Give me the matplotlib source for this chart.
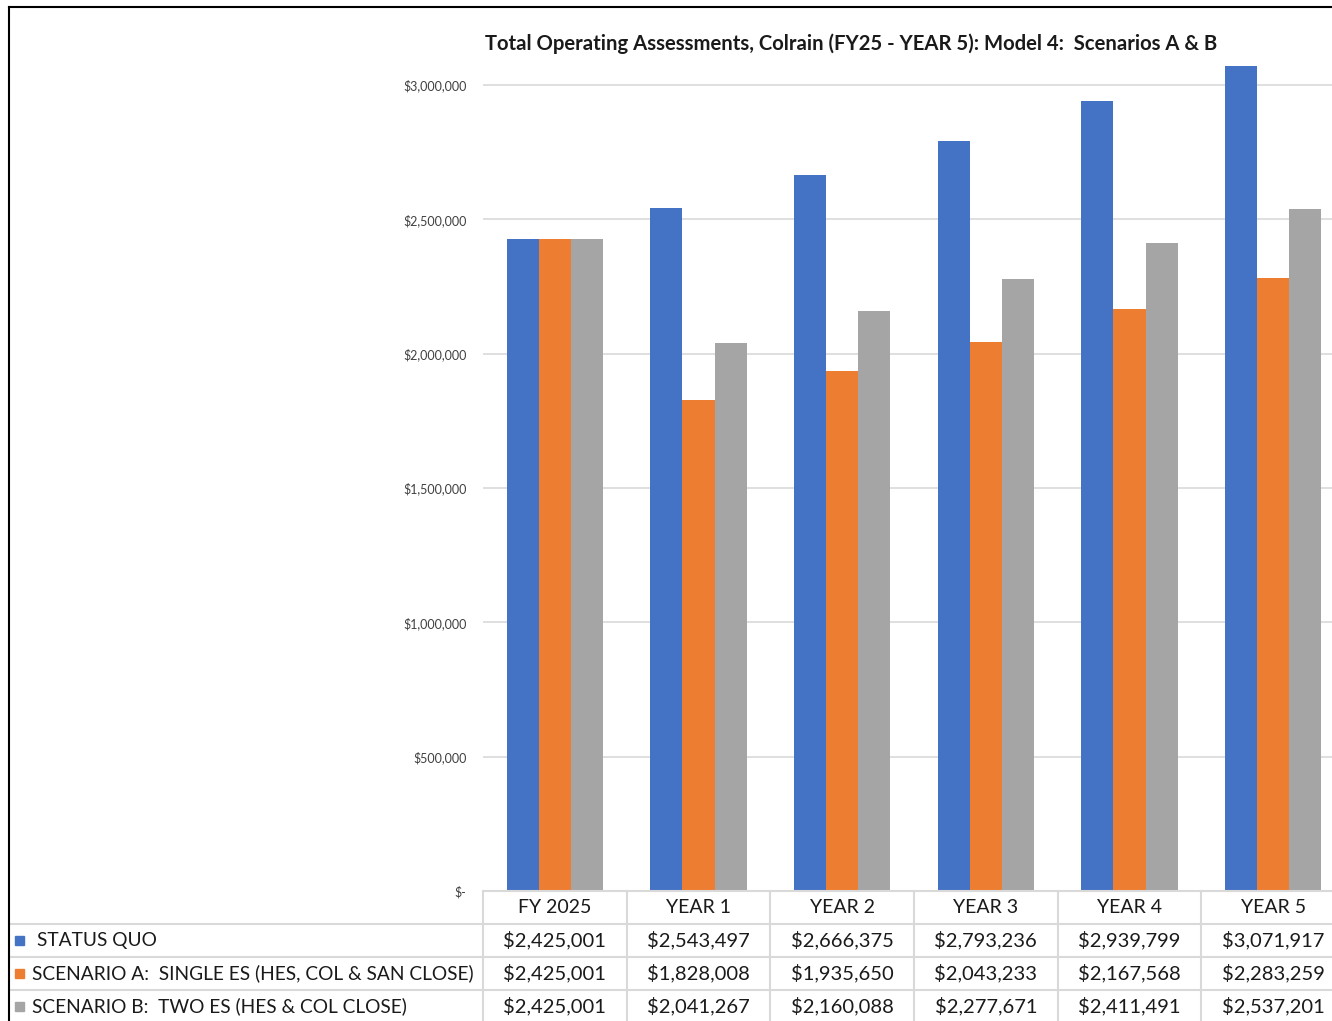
import matplotlib
matplotlib.use("Agg")
import matplotlib.pyplot as plt
from matplotlib.lines import Line2D
from matplotlib.patches import Rectangle
from matplotlib.ticker import FuncFormatter
from matplotlib.transforms import blended_transform_factory
import numpy as np

plt.rcParams['font.family'] = ['Lato', 'DejaVu Sans']

# assessment totals per year
categories = ["FY 2025", "YEAR 1", "YEAR 2", "YEAR 3", "YEAR 4", "YEAR 5"]
status_quo = [2425001, 2543497, 2666375, 2793236, 2939799, 3071917]
scenario_a = [2425001, 1828008, 1935650, 2043233, 2167568, 2283259]
scenario_b = [2425001, 2041267, 2160088, 2277671, 2411491, 2537201]
series_names = ["STATUS QUO",
                "SCENARIO A:  SINGLE ES (HES, COL & SAN CLOSE)",
                "SCENARIO B:  TWO ES (HES & COL CLOSE)"]
series_colors = ["#4472c4", "#ed7d31", "#a5a5a5"]
yticks = [0, 500000, 1000000, 1500000, 2000000, 2500000, 3000000]

W, H = 1332, 1021
fig = plt.figure(figsize=(W / 100, H / 100), dpi=100)

def fx(px):
    return px / W

def fy(py):
    return 1 - py / H

# plot area runs off the right edge, like the original sheet
left_px, right_px = 483, 1345
zero_px, top_val_px = 891, 85
ymax = 3200000
top_px = zero_px - (zero_px - top_val_px) * ymax / 3000000
ax = fig.add_axes([fx(left_px), fy(zero_px), fx(right_px - left_px),
                   (zero_px - top_px) / H])

x = np.arange(len(categories))
bw = 0.223
for i, (vals, col) in enumerate(zip([status_quo, scenario_a, scenario_b], series_colors)):
    ax.bar(x + (i - 1) * bw, vals, width=bw, color=col, zorder=3, clip_on=False)

ax.set_xlim(-0.5, len(categories) - 0.5)
ax.set_ylim(0, ymax)
ax.set_yticks(yticks)
ax.yaxis.set_major_formatter(FuncFormatter(lambda v, p: "$-" if v == 0 else "${:,.0f}".format(v)))
ax.tick_params(axis='y', length=0, pad=12, labelsize=9, labelcolor="#404040")
ax.set_xticks([])
ax.grid(axis='y', color="#d9d9d9", linewidth=1.2, zorder=0)
for s in ax.spines.values():
    s.set_visible(False)

fig.text(fx(485), fy(44), "Total Operating Assessments, Colrain (FY25 - YEAR 5): Model 4:  Scenarios A & B",
         fontsize=14.6, fontweight='bold', ha='left', va='center', color="#1a1a1a")

# data table under the chart
grid_col = "#d9d9d9"
row_edges = [891, 924, 957, 990, 1023]
trans = blended_transform_factory(ax.transData, fig.transFigure)
fig.add_artist(Line2D([fx(left_px), 1], [fy(row_edges[0])] * 2, color=grid_col, lw=1.5))
for r in row_edges[1:4]:
    fig.add_artist(Line2D([fx(9), 1], [fy(r)] * 2, color=grid_col, lw=1.5))
for b in np.arange(-0.5, len(categories), 1.0):
    fig.add_artist(Line2D([b, b], [fy(row_edges[0]), fy(H)], color=grid_col, lw=1.5,
                          transform=trans))

for j, cat in enumerate(categories):
    fig.text(j, fy((row_edges[0] + row_edges[1]) / 2), cat, transform=trans,
             ha='center', va='center', fontsize=14, color="#1a1a1a")
for i, vals in enumerate([status_quo, scenario_a, scenario_b]):
    yc = fy((row_edges[i + 1] + row_edges[i + 2]) / 2)
    for j, v in enumerate(vals):
        fig.text(j, yc, "${:,.0f}".format(v), transform=trans,
                 ha='center', va='center', fontsize=14.5, color="#1a1a1a")
    fig.add_artist(Rectangle((fx(15), yc - 4.5 / H), fx(9), 9 / H,
                             color=series_colors[i], transform=fig.transFigure))
    fig.text(fx(37 if i == 0 else 32), yc, series_names[i], ha='left', va='center',
             fontsize=13.8, color="#1a1a1a")

# outer border (top and left only)
fig.add_artist(Line2D([fx(9), 1], [fy(7)] * 2, color="black", lw=1.5))
fig.add_artist(Line2D([fx(9), fx(9)], [fy(7), 0], color="black", lw=1.5))

fig.savefig("out.png", dpi=100)
